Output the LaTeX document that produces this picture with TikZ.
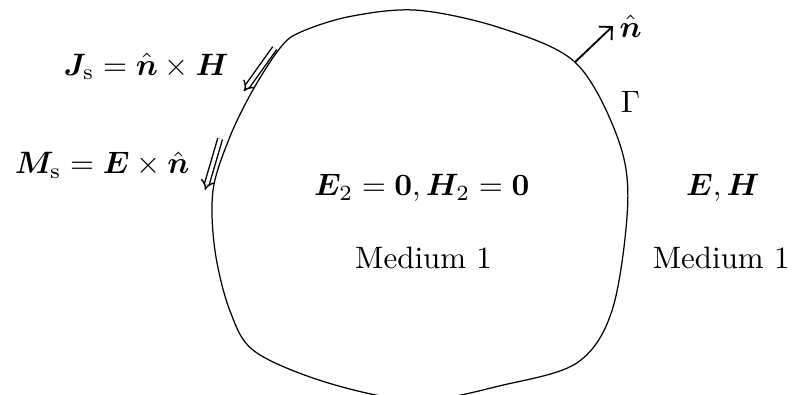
\documentclass[tikz,border=0pt]{standalone}
\usepackage{amsmath,amssymb,bm}
\usepackage{tikz}
\usetikzlibrary{arrows.meta,calc,positioning}

\begin{document}
\begin{tikzpicture}[
    every node/.style={inner sep=1pt},
    surfcur/.style={double, double distance=1.1pt, line width=0.45pt, -{Implies}},
    normal/.style={semithick, -{Straight Barb[length=3pt]}}
]
    \useasboundingbox (0,0) rectangle (9.04,4.476);
    % boundary Gamma
    \draw[thin] plot[smooth cycle, tension=0.55] coordinates {
        (4.74,4.36) (5.68,4.16) (6.53,3.77) (7.00,2.95) (7.13,2.20) (6.96,0.98)
        (6.56,0.36) (5.70,0.10) (4.75,-0.07) (3.75,0.12) (2.90,0.48) (2.61,0.95)
        (2.44,1.64) (2.42,2.32) (2.61,2.92) (2.87,3.45) (3.18,3.93) (3.41,4.11)
        (3.98,4.29)};

    \coordinate (nfoot) at (6.53,3.77);
    \coordinate (ntip) at (6.96,4.18);
    \draw[normal] (nfoot) -- (ntip);
    \node[right=1pt of ntip] (nhat) {$\hat{\bm{n}}$};
    \node (gam) at (7.16,3.32) {$\Gamma$};

    \coordinate (js1) at (3.12,3.93);
    \coordinate (js2) at (2.77,3.44);
    \coordinate (ms1) at (2.50,2.90);
    \coordinate (ms2) at (2.33,2.32);
    \draw[surfcur] (js1) -- (js2);
    \draw[surfcur] (ms1) -- (ms2);
    \node (jlbl) at (1.66,3.72) {$\bm{J}_\mathrm{s} = \hat{\bm{n}} \times \bm{H}$};
    \node (mlbl) at (1.16,2.60) {$\bm{M}_\mathrm{s} = \bm{E} \times \hat{\bm{n}}$};

    \node (inner) at (4.79,2.34) {$\bm{E}_2 = \bm{0}, \bm{H}_2 = \bm{0}$};
    \node (med2) at (4.81,1.55) {Medium 1};
    \node (outer) at (8.21,2.34) {$\bm{E}, \bm{H}$};
    \node (med1) at (8.19,1.55) {Medium 1};

\end{tikzpicture}
\end{document}
